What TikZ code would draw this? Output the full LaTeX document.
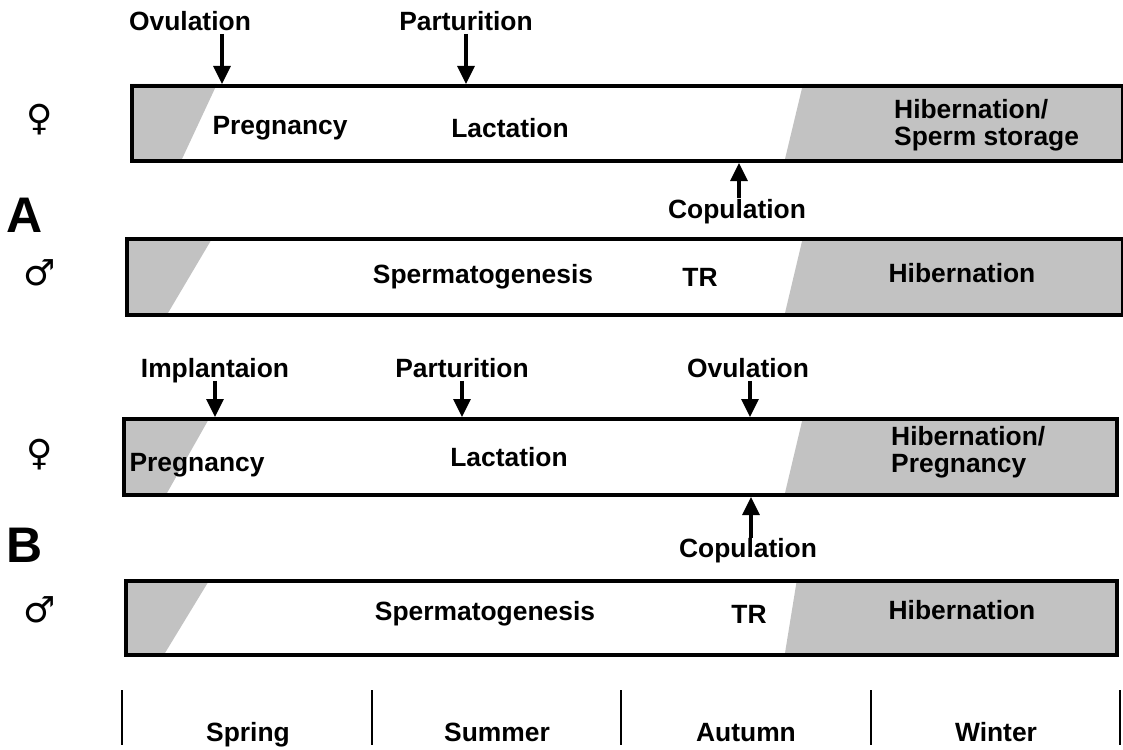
\documentclass[tikz,border=0pt]{standalone}
\usepackage{fontspec}
\setmainfont{Liberation Sans}
\newfontfamily\symfont{DejaVu Sans}
\usetikzlibrary{positioning,arrows.meta}

\begin{document}
\begin{tikzpicture}[x=1pt, y=-1pt, font=\bfseries\fontsize{26.4}{27}\selectfont,
		bar/.style={draw, line width=4pt, inner sep=0pt, anchor=north west},
		shade/.style={fill=black!24},
		lbl/.style={inner sep=1pt},
		evt/.style={lbl, text depth=2pt},
		arr/.style={line width=3.2pt, -{Triangle[width=17pt,length=18pt]}},
		sex/.style={font=\symfont\fontsize{36}{36}\selectfont},
		panel/.style={font=\bfseries\fontsize{50}{50}\selectfont},
		tick/.style={line width=2.2pt}]
		\useasboundingbox (0,0) rectangle (1123,749);
		% shaded parts of the year
		\fill[shade] (130,84) -- (217,84) -- (182,159) -- (130,159) -- cycle;
		\fill[shade] (803,84) -- (1121,84) -- (1121,159) -- (785,159) -- cycle;
		\fill[shade] (125,237) -- (213,237) -- (168,313) -- (125,313) -- cycle;
		\fill[shade] (803,237) -- (1121,237) -- (1121,313) -- (785,313) -- cycle;
		\fill[shade] (122,417) -- (210,417) -- (167,493) -- (122,493) -- cycle;
		\fill[shade] (803,417) -- (1115,417) -- (1115,493) -- (785,493) -- cycle;
		\fill[shade] (124,579) -- (210,579) -- (165,653) -- (124,653) -- cycle;
		\fill[shade] (797,579) -- (1115,579) -- (1115,653) -- (785,653) -- cycle;
		% bars
		\node[bar, minimum width=991pt, minimum height=75pt] (Af) at (130,84) {};
		\node[bar, minimum width=996pt, minimum height=76pt] (Am) at (125,237) {};
		\node[bar, minimum width=993pt, minimum height=76pt] (Bf) at (122,417) {};
		\node[bar, minimum width=991pt, minimum height=74pt] (Bm) at (124,579) {};

		% panel A
		\node[panel] (A) at (25,215) {A};
		\node[sex] (fA) at (40,120) {♀};
		\node[sex] (mA) at (40,273) {♂};
		\node[evt] (ovA) at (190,22) {Ovulation};
		\node[evt] (parA) at (466,22) {Parturition};
		\draw[arr] ([xshift=32pt]ovA.south) -- ([xshift=32pt]ovA.south |- Af.north);
		\draw[arr] (parA.south) -- (parA.south |- Af.north);
		\node[lbl] (pregA) at (280,128) {Pregnancy};
		\node[lbl] (lactA) at (510,128) {Lactation};
		\node[lbl, align=left, anchor=west] (hibA) at (893,125) {Hibernation/\\Sperm storage};
		\node[lbl] (copA) at (737,212) {Copulation};
		\draw[arr] ([xshift=2pt]copA.north) -- ([xshift=2pt]copA.north |- Af.south);
		\node[lbl] (spA) at (483,277) {Spermatogenesis};
		\node[lbl] (trA) at (700,277) {TR};
		\node[lbl] (hibmA) at (962,273) {Hibernation};

		% panel B
		\node[panel] (B) at (25,545) {B};
		\node[sex] (fB) at (40,455) {♀};
		\node[sex] (mB) at (40,610) {♂};
		\node[evt] (impB) at (215,369) {Implantaion};
		\node[evt] (parB) at (462,369) {Parturition};
		\node[evt] (ovB) at (748,369) {Ovulation};
		\draw[arr] (impB.south) -- (impB.south |- Bf.north);
		\draw[arr] (parB.south) -- (parB.south |- Bf.north);
		\draw[arr] ([xshift=2pt]ovB.south) -- ([xshift=2pt]ovB.south |- Bf.north);
		\node[lbl] (pregB) at (197,465) {Pregnancy};
		\node[lbl] (lactB) at (509,457) {Lactation};
		\node[lbl, align=left, anchor=west] (hibB) at (890,452) {Hibernation/\\Pregnancy};
		\node[lbl] (copB) at (748,551) {Copulation};
		\draw[arr] ([xshift=3pt]copB.north) -- ([xshift=3pt]copB.north |- Bf.south);
		\node[lbl] (spB) at (485,614) {Spermatogenesis};
		\node[lbl] (trB) at (749,614) {TR};
		\node[lbl] (hibmB) at (962,610) {Hibernation};

		% seasons
		\foreach \x in {122,372,621,871,1120}
			\draw[tick] (\x,690) -- (\x,745);
		\node[lbl, anchor=base] (spring) at (248,741) {Spring};
		\node[lbl, anchor=base] (summer) at (497,741) {Summer};
		\node[lbl, anchor=base] (autumn) at (746,741) {Autumn};
		\node[lbl, anchor=base] (winter) at (996,741) {Winter};
	\end{tikzpicture}
\end{document}
